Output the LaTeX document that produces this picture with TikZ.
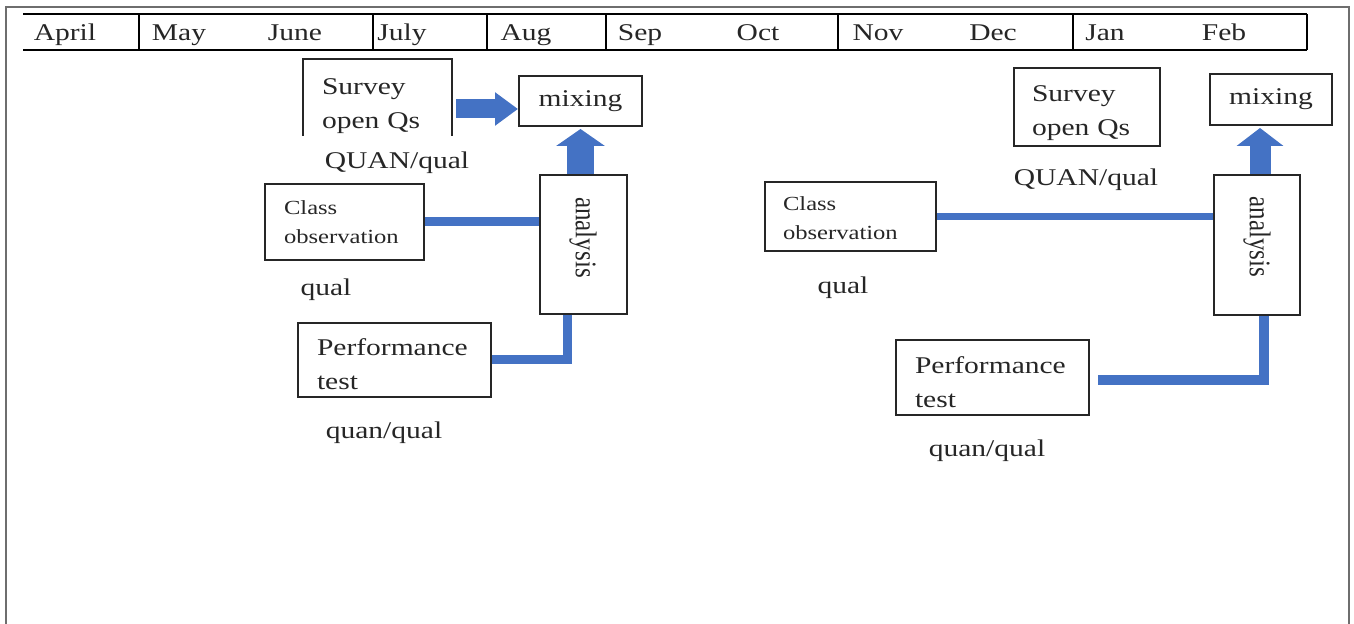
\documentclass[tikz,border=0pt]{standalone}
\usepackage{fontspec}
\setmainfont{Liberation Serif}[FakeStretch=1.23]
\newfontfamily\rotfont{Liberation Serif}
\usetikzlibrary{arrows.meta,calc}
\definecolor{conblue}{RGB}{68,114,196}
\definecolor{ink}{RGB}{38,38,38}
\definecolor{framegray}{RGB}{110,110,110}
\newcommand{\lift}[1]{\rule{0pt}{#1}}
\begin{document}
\begin{tikzpicture}[x=0.5pt,y=-0.5pt,
  box/.style={draw=ink, line width=1pt, inner sep=0pt},
  ltext/.style={align=left, font=\fontsize{12}{17}\selectfont, text=ink},
  stext/.style={align=left, font=\fontsize{10}{14.5}\selectfont, text=ink},
  ctext/.style={align=center, font=\fontsize{12}{14}\selectfont, text=ink},
  rtext/.style={rotate=-90, font=\rotfont\fontsize{12.5}{15}\selectfont, text=ink, inner sep=0pt},
  lab/.style={anchor=base, font=\fontsize{12}{14}\selectfont, text=ink, inner sep=0pt},
  conn/.style={draw=conblue, line join=miter},
  tbl/.style={draw=black, line width=1pt},
  framestyle/.style={draw=framegray, line width=0.75pt}]
\useasboundingbox (0,0) rectangle (1354,624);

% outer frame
\draw[framestyle] (6,624) -- (6,7) -- (1349,7) -- (1349,624);

% month table
\draw[tbl] (23,14) -- (1307,14);
\draw[tbl] (23,50) -- (1307,50);
\foreach \xx in {139,373,487,606,838,1073,1307} {\draw[tbl] (\xx,14) -- (\xx,50);}
\node[lab] (m1) at (65,41) {April};
\node[lab] (m2) at (179,41) {May};
\node[lab] (m3) at (295,41) {June};
\node[lab] (m4) at (402,41) {July};
\node[lab] (m5) at (526,41) {Aug};
\node[lab] (m6) at (640,41) {Sep};
\node[lab] (m7) at (758,41) {Oct};
\node[lab] (m8) at (878,41) {Nov};
\node[lab] (m9) at (993,41) {Dec};
\node[lab] (m10) at (1105,41) {Jan};
\node[lab] (m11) at (1224,41) {Feb};

% ---------- left group ----------
\node[box, draw=none, minimum width=73.5pt, minimum height=37.5pt, inner xsep=9pt, text width=55.5pt, ltext] (sL) at (377.5,97.5) {\lift{16.2pt}Survey\\open Qs};
\draw[draw=ink, line width=1pt] (sL.south west) -- (sL.north west) -- (sL.north east) -- (sL.south east);
\node[box, minimum width=61.5pt, minimum height=25pt, ctext] (mL) at (580.5,101) {mixing};
\node[box, minimum width=43.5pt, minimum height=69.5pt] (aL) at (583.5,244.5) {};
\node[rtext] (aLt) at (583,237.5) {\scalebox{1}[1.2]{analysis}};
\node[box, minimum width=79.5pt, minimum height=38pt, inner xsep=9.5pt, text width=60.5pt, stext] (cL) at (344.5,222) {Class\\observation};
\node[box, minimum width=96.5pt, minimum height=37pt, inner xsep=9.5pt, text width=77.5pt, ltext] (pL) at (394.5,360) {\lift{12.2pt}Performance\\test};
\node[lab] (qL1) at (397,169) {QUAN/qual};
\node[lab] (qL2) at (326,296) {qual};
\node[lab] (qL3) at (384,439) {quan/qual};

\coordinate (arrL) at ($(sL.east)+(4,11.5)$);
\draw[conn, line width=9.5pt, -{Triangle[length=11.5pt,width=16pt]}] (arrL) -- (arrL -| mL.west);
\draw[conn, line width=13.5pt, -{Triangle[length=8.5pt,width=24pt]}] (mL.south |- aL.north) -- ($(mL.south)+(0,2)$);
\draw[conn, line width=4.5pt] (cL.east) -- (cL.east -| aL.west);
\coordinate (vL) at ($(aL.south)+(-16,0)$);
\draw[conn, line width=4.5pt] (pL.east) -| (vL);

% ---------- right group ----------
\node[box, minimum width=73pt, minimum height=39pt, inner xsep=9pt, text width=55pt, ltext] (sR) at (1087,107) {\lift{14.2pt}Survey\\open Qs};
\node[box, minimum width=61pt, minimum height=25.5pt, ctext] (mR) at (1271,99.5) {mixing};
\node[box, minimum width=43pt, minimum height=70pt] (aR) at (1257,245) {};
\node[rtext] (aRt) at (1257,237) {\scalebox{1}[1.2]{analysis}};
\node[box, minimum width=85.5pt, minimum height=34.5pt, inner xsep=9pt, text width=67.5pt, stext] (cR) at (850.5,216.5) {\lift{8.8pt}Class\\observation};
\node[box, minimum width=96.5pt, minimum height=37.5pt, inner xsep=9.5pt, text width=77.5pt, ltext] (pR) at (992.5,377.5) {\lift{13.2pt}Performance\\test};
\node[lab] (qR1) at (1086,186) {QUAN/qual};
\node[lab] (qR2) at (843,294) {qual};
\node[lab] (qR3) at (987,457) {quan/qual};

\coordinate (upR) at ($(aR.north)+(3,0)$);
\draw[conn, line width=10.5pt, -{Triangle[length=9pt,width=23pt]}] (upR) -- ($(upR |- mR.south)+(0,2)$);
\draw[conn, line width=3.5pt] (cR.east) -- (cR.east -| aR.west);
\coordinate (hR) at ($(pR.east)+(8,3)$);
\coordinate (vR) at ($(aR.south)+(7,0)$);
\draw[conn, line width=5pt] (hR) -| (vR);
\end{tikzpicture}
\end{document}
